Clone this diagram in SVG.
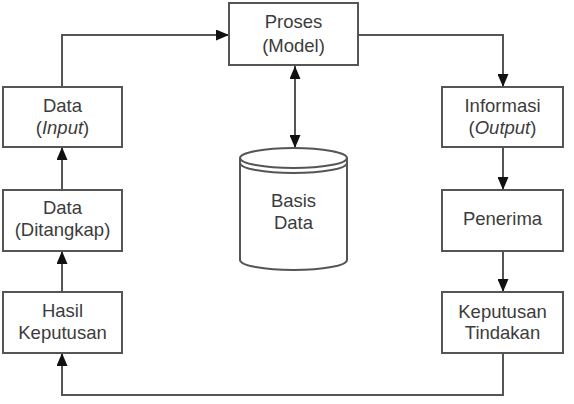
<svg xmlns="http://www.w3.org/2000/svg" width="574" height="404" viewBox="0 0 574 404">
<defs>
<marker id="ah" viewBox="0 0 13 11" refX="13" refY="5.5" markerWidth="13" markerHeight="11" markerUnits="userSpaceOnUse" orient="auto-start-reverse">
<path d="M0,0 L13,5.5 L0,11 Z" fill="#111"/>
</marker>
<style>
.box{fill:#fff;stroke:#555;stroke-width:2}
.ln{fill:none;stroke:#555;stroke-width:2}
.t{font-family:"Liberation Sans",Arial,sans-serif;font-size:18.5px;fill:#3c3c3c;text-anchor:middle}
</style>
</defs>
<rect width="574" height="404" fill="#fff"/>
<g id="connectors">
<path class="ln" d="M62,87 V35 H229" marker-end="url(#ah)"/>
<path class="ln" d="M358,35 H503 V87" marker-end="url(#ah)"/>
<path class="ln" d="M503,147 V190" marker-end="url(#ah)"/>
<path class="ln" d="M503,251 V292" marker-end="url(#ah)"/>
<path class="ln" d="M503,353 V395 H62 V353" marker-end="url(#ah)"/>
<path class="ln" d="M62,292 V251" marker-end="url(#ah)"/>
<path class="ln" d="M62,190 V147" marker-end="url(#ah)"/>
<path class="ln" d="M295,66 V148" marker-start="url(#ah)" marker-end="url(#ah)"/>
</g>
<g id="proses">
<rect class="box" x="229" y="3" width="129" height="62"/>
<text class="t" x="293.5" y="28">Proses</text>
<text class="t" x="293.5" y="52">(Model)</text>
</g>
<g id="basis-data">
<path class="box" d="M240,158 V260 A53.5,10 0 0 0 347,260 V158"/>
<ellipse class="box" cx="293.5" cy="158" rx="53.5" ry="10"/>
<path class="ln" d="M240,163 A53.5,10 0 0 0 347,163"/>
<text class="t" x="293.5" y="207">Basis</text>
<text class="t" x="293.5" y="229">Data</text>
</g>
<g id="data-input">
<rect class="box" x="3" y="87" width="119" height="60"/>
<text class="t" x="62.5" y="112">Data</text>
<text class="t" x="62.5" y="134">(<tspan font-style="italic">Input</tspan>)</text>
</g>
<g id="data-ditangkap">
<rect class="box" x="3" y="190" width="119" height="61"/>
<text class="t" x="62.5" y="214">Data</text>
<text class="t" x="62.5" y="236">(Ditangkap)</text>
</g>
<g id="hasil-keputusan">
<rect class="box" x="3" y="292" width="119" height="61"/>
<text class="t" x="62.5" y="317">Hasil</text>
<text class="t" x="62.5" y="339">Keputusan</text>
</g>
<g id="informasi">
<rect class="box" x="442" y="87" width="121" height="60"/>
<text class="t" x="502.5" y="112">Informasi</text>
<text class="t" x="502.5" y="134">(<tspan font-style="italic">Output</tspan>)</text>
</g>
<g id="penerima">
<rect class="box" x="442" y="190" width="121" height="61"/>
<text class="t" x="502.5" y="225">Penerima</text>
</g>
<g id="keputusan-tindakan">
<rect class="box" x="442" y="292" width="121" height="61"/>
<text class="t" x="502.5" y="318">Keputusan</text>
<text class="t" x="502.5" y="339">Tindakan</text>
</g>
</svg>
